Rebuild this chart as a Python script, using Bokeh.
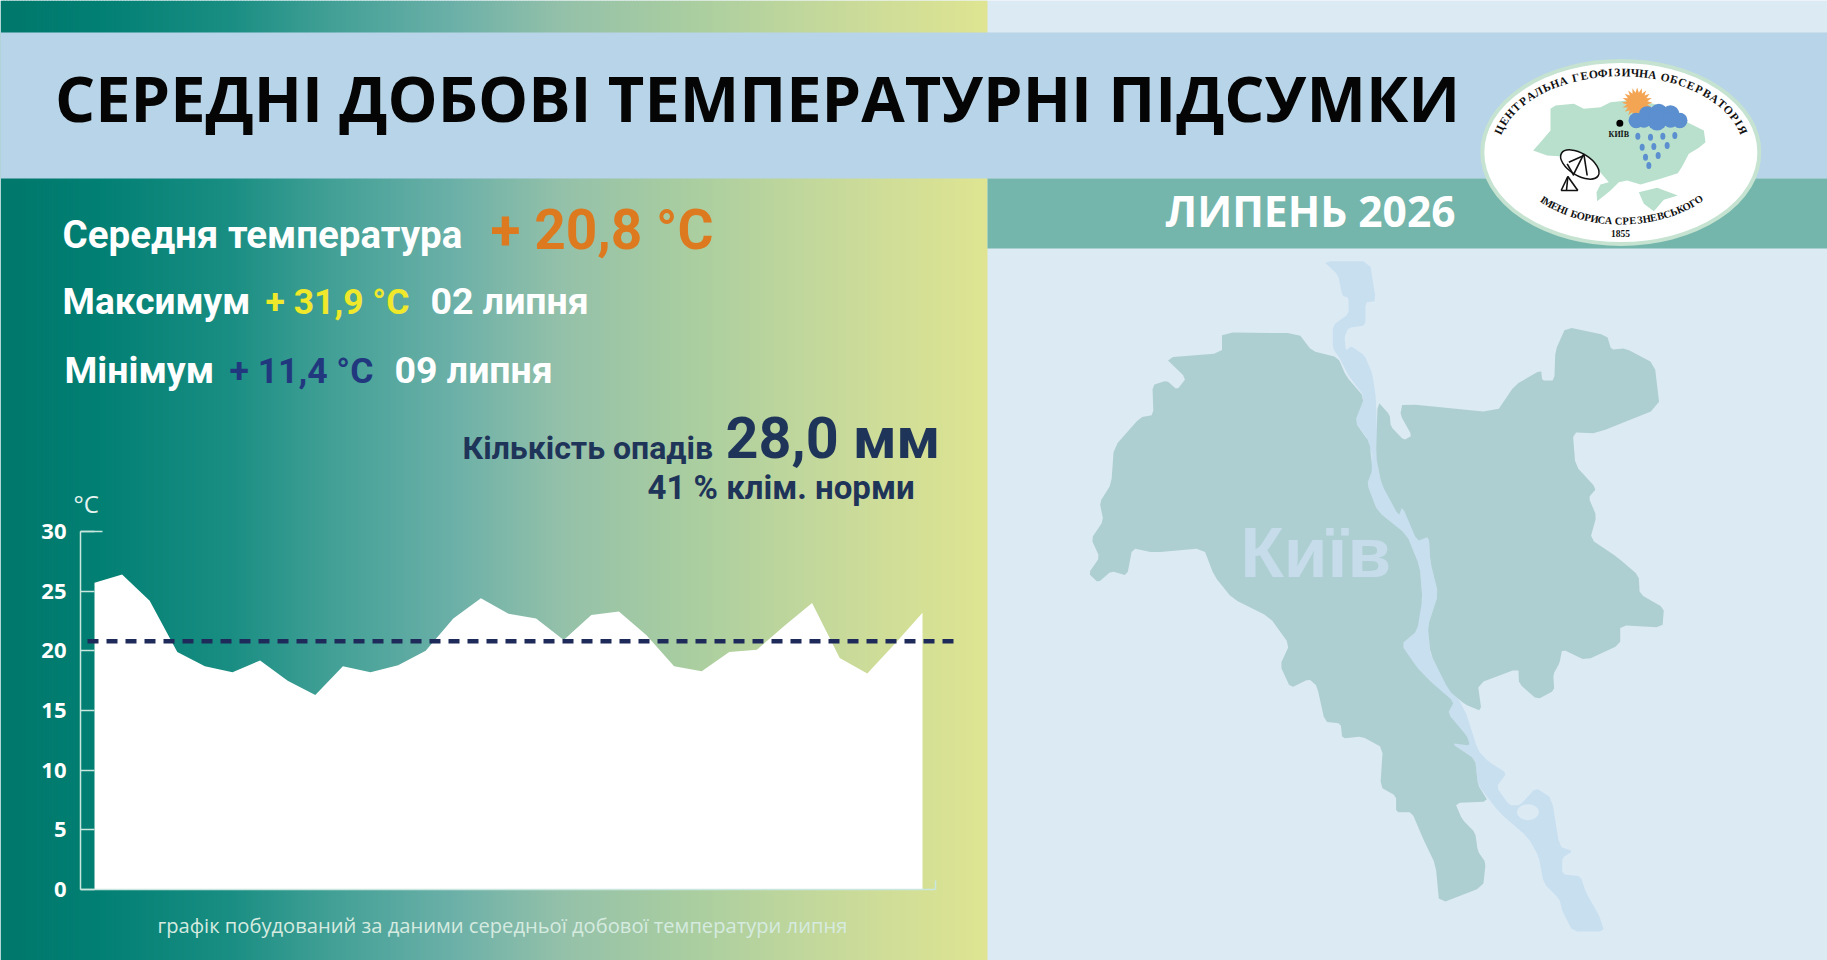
import math
import numpy as np
from bokeh.embed import file_html
from bokeh.resources import INLINE
from bokeh.plotting import figure
from bokeh.models import Range1d, LinearAxis, FixedTicker
from bokeh.core.properties import value

# ---- chart data ----
days = list(range(1, 32))
daily_mean = [25.7, 26.4, 24.2, 19.9, 18.7, 18.2, 19.2, 17.5, 16.3, 18.7, 18.2, 18.8, 20.0, 22.7, 24.4, 23.1,
              22.7, 20.9, 23.0, 23.3, 21.3, 18.7, 18.3, 19.9, 20.1, 22.1, 24.0, 19.4, 18.1, 20.6, 23.2]
month_mean = 20.8
y_ticks = [0, 5, 10, 15, 20, 25, 30]

title_text = "СЕРЕДНІ ДОБОВІ ТЕМПЕРАТУРНІ ПІДСУМКИ"
month_text = "ЛИПЕНЬ 2026"
footer_text = "графік побудований за даними середньої добової температури липня"

# ---- page geometry (reference pixels) ----
W, H = 1827, 960
px_per_day = 27.6
px_day1 = 94.0
px_per_deg = 11.933
px_zero = 889.0

def d_of(px):
    return 1 + (px - px_day1) / px_per_day

def t_of(py):
    return (px_zero - py) / px_per_deg

p = figure(width=W, height=H, output_backend="svg", toolbar_location=None,
           x_axis_type=None, y_axis_type=None,
           x_range=Range1d(d_of(0), d_of(W)), y_range=Range1d(t_of(H), t_of(0)),
           min_border=0, min_border_left=0, min_border_right=0, min_border_top=0, min_border_bottom=0)
p.outline_line_color = None
p.background_fill_color = "#dceaf4"
p.border_fill_color = "#dceaf4"
p.extra_x_ranges["px"] = Range1d(0, W)
p.extra_y_ranges["px"] = Range1d(H, 0)
PX = dict(x_range_name="px", y_range_name="px")

# ---- gradient panel ----
stops_x = [0, 100, 230, 330, 450, 560, 700, 850, 987]
stops_c = [(0, 120, 107), (3, 128, 116), (26, 142, 131), (66, 160, 150), (107, 176, 168),
           (148, 193, 170), (172, 207, 160), (202, 219, 154), (223, 229, 146)]
lefts = np.arange(0, 987, 3)
cols = []
for l in lefts:
    c = [int(np.interp(l + 1.5, stops_x, [s[i] for s in stops_c])) for i in range(3)]
    cols.append("#%02x%02x%02x" % tuple(c))
p.quad(left=lefts, right=np.minimum(lefts + 4, 987), top=0, bottom=960, fill_color=cols, line_color=None, **PX)

# ---- bands ----
p.quad(left=[0], right=[W], top=[32], bottom=[178], fill_color="#b8d4e8", line_color=None, **PX)
p.quad(left=[987], right=[W], top=[178], bottom=[248], fill_color="#74b5ac", line_color=None, **PX)

# ---- Kyiv map (illustration, traced in zoom space) ----
def smooth(pts, n=1, q=0.14):
    for _ in range(n):
        out = []
        m = len(pts)
        for i in range(m):
            a, b = pts[i], pts[(i + 1) % m]
            out.append((a[0] + q * (b[0] - a[0]), a[1] + q * (b[1] - a[1])))
            out.append((b[0] - q * (b[0] - a[0]), b[1] - q * (b[1] - a[1])))
        pts = out
    return pts

def mx(pts):
    return [1000 + a / 1.896 for a, b in pts]

def my(pts):
    return [240 + b / 2.178 for a, b in pts]

river = [(612,45),(640,75),(648,120),(660,125),(660,160),(630,185),(630,235),(645,260),(660,295),(690,340),(672,395),
         (695,430),(705,470),(695,530),(715,590),(770,640),(795,710),(800,780),(785,855),(760,880),(790,930),(815,960),
         (855,1005),(848,1030),(885,1085),(855,1095),(900,1130),(905,1185),(945,1245),(1000,1300),(1020,1340),(1030,1400),
         (1060,1435),(1065,1460),(1085,1505),(1145,1505),(1135,1470),(1110,1420),(1100,1385),(1065,1380),(1065,1345),
         (1085,1330),(1060,1320),(1045,1215),(1015,1192),(985,1230),(965,1230),(940,1190),(960,1160),(925,1135),(905,1110),
         (880,1020),(815,905),(810,840),(830,770),(815,700),(812,645),(780,620),(762,580),(722,530),(715,490),(712,345),
         (705,290),(690,250),(665,230),(655,240),(652,210),(660,190),(692,185),(692,135),(712,132),(700,45)]
west = [(420,200),(565,202),(590,240),(640,255),(655,295),(690,342),(672,395),(700,440),(705,500),(695,530),(715,590),
        (770,640),(795,710),(800,780),(790,850),(760,880),(790,930),(815,960),(860,1005),(848,1030),(885,1080),(890,1100),
        (855,1095),(900,1130),(905,1185),(925,1222),(862,1225),(875,1260),(900,1290),(905,1330),(920,1355),(915,1408),
        (832,1445),(825,1360),(800,1300),(780,1245),(750,1245),(750,1210),(720,1190),(725,1105),(685,1080),(648,1085),
        (645,1052),(615,1048),(600,970),(585,955),(550,975),(530,925),(548,880),(510,820),(440,780),(405,730),(385,670),
        (290,680),(250,670),(240,730),(210,720),(185,745),(167,725),(188,690),(172,650),(195,610),(188,570),(210,530),
        (215,450),(265,385),(290,380),(288,315),(315,305),(335,325),(352,300),(312,255),(420,245)]
east = [(762,355),(940,375),(975,315),(1025,282),(1027,305),(1050,305),(1052,240),(1072,188),(1150,207),(1158,238),
        (1185,235),(1240,268),(1250,365),(1130,420),(1085,418),(1090,490),(1130,540),(1115,560),(1130,600),(1118,650),
        (1170,690),(1210,730),(1212,770),(1258,800),(1255,843),(1175,838),(1175,880),(1110,915),(1065,890),(1060,920),
        (1048,945),(1050,980),(1018,1000),(983,965),(982,932),(905,965),(912,1025),(880,1010),(850,980),(815,900),(810,840),
        (830,770),(815,700),(812,645),(790,655),(762,580),(755,600),(722,530),(712,470),(715,350),(738,380),(740,405),
        (765,435),(780,425),(758,380)]
river_s, west_s, east_s = smooth(river), smooth(west), smooth(east)
p.patch(mx(river_s), my(river_s), fill_color="#c8dff0", line_color=None, **PX)
p.patch(mx(west_s), my(west_s), fill_color="#aecfd2", line_color=None, **PX)
p.patch(mx(east_s), my(east_s), fill_color="#aecfd2", line_color=None, **PX)
p.ellipse(x=[1000 + 1000 / 1.896], y=[240 + 1245 / 2.178], width=[22], height=[16], fill_color="#dceaf4",
          line_color=None, **PX)

BASE_SHIFT = 0.43

def txt(x, y, s, color, size, font="Open Sans", style="bold", align="left"):
    p.text(x=[x], y=[y - BASE_SHIFT * size], text=[s], text_color=color, text_font=value(font),
           text_font_size="%gpx" % size, text_font_style=style, text_align=align, text_baseline="alphabetic", **PX)

txt(1240, 583, "Київ", "#c6dcea", 71, font="Liberation Sans")

# ---- chart ----
p.varea(x=days, y1=[0] * len(days), y2=daily_mean, fill_color="#ffffff")
p.line(x=[d_of(87), d_of(961)], y=[month_mean, month_mean], line_color="#1e2a5a", line_width=4.5, line_dash="11 8")

yaxis = LinearAxis(ticker=FixedTicker(ticks=y_ticks), fixed_location=d_of(80), bounds=(0, 30))
yaxis.axis_line_color = "#c9e6df"
yaxis.axis_line_width = 1.5
yaxis.major_tick_line_color = "#c9e6df"
yaxis.major_tick_line_width = 1.5
yaxis.major_tick_in = 14
yaxis.major_tick_out = 0
yaxis.minor_tick_line_color = None
yaxis.major_label_text_color = "#ffffff"
yaxis.major_label_text_font = "Open Sans"
yaxis.major_label_text_font_style = "bold"
yaxis.major_label_text_font_size = "22px"
yaxis.major_label_standoff = 14
p.add_layout(yaxis, "left")

xaxis = LinearAxis(ticker=FixedTicker(ticks=[d_of(935)]), fixed_location=0, bounds=(d_of(80), d_of(935)))
xaxis.axis_line_color = "#c9e6df"
xaxis.axis_line_width = 1.5
xaxis.major_tick_line_color = "#c9e6df"
xaxis.major_tick_line_width = 1.5
xaxis.major_tick_in = 9
xaxis.major_tick_out = 0
xaxis.minor_tick_line_color = None
xaxis.major_label_text_font_size = "0px"
xaxis.major_label_text_color = None
p.add_layout(xaxis, "below")

# long top tick of the y axis
p.line(x=[d_of(80), d_of(102)], y=[30, 30], line_color="#c9e6df", line_width=1.5)

# ---- texts ----
BODY = "Roboto"
txt(54.5, 124.5, title_text, "#050505", 63.1)
txt(1165, 228, month_text, "#ffffff", 42.5)
txt(62, 251, "Середня температура", "#ffffff", 38.5, font=BODY)
txt(490, 253, "+ 20,8 °C", "#dd7a1f", 55, font=BODY)
txt(62, 317, "Максимум", "#ffffff", 37, font=BODY)
txt(265, 317, "+ 31,9 °C", "#f0e82a", 35.5, font=BODY)
txt(430, 317, "02 липня", "#ffffff", 37.5, font=BODY)
txt(64, 386, "Мінімум", "#ffffff", 37.5, font=BODY)
txt(229, 386, "+ 11,4 °C", "#22387e", 35.5, font=BODY)
txt(394, 386, "09 липня", "#ffffff", 37.5, font=BODY)
txt(462, 461.5, "Кількість опадів", "#1f3459", 32, font=BODY)
txt(725, 462.5, "28,0 мм", "#1f3459", 57.5, font=BODY)
txt(647, 501, "41 % клім. норми", "#1f3459", 33, font=BODY)
txt(73, 513, "°C", "#e6f3ef", 24, style="normal")
txt(157, 933, footer_text, "#d6ebe0", 20.15, style="normal")

# ---- logo (zoom space is /3 + offset) ----
lx = lambda a: 1440 + a / 3
ly = lambda b: 40 + b / 3
p.ellipse(x=[lx(541)], y=[ly(336)], width=[277], height=[183], fill_color="#ffffff", line_color="#c5e3d0", line_width=4, **PX)
ukr = [(330,205),(345,195),(400,190),(430,205),(480,200),(510,185),(560,180),(640,190),(700,215),(740,245),(790,270),
       (795,305),(775,322),(745,340),(725,378),(712,398),(660,415),(600,432),(560,420),(535,425),(510,450),(470,482),
       (468,455),(480,432),(505,425),(470,385),(430,360),(400,350),(320,345),(278,330),(300,305),(330,270)]
crimea = [(595,455),(650,442),(712,465),(670,478),(640,512),(610,490)]
p.patch([lx(a) for a, b in ukr], [ly(b) for a, b in ukr], fill_color="#b8e0cc", line_color=None, **PX)
p.patch([lx(a) for a, b in crimea], [ly(b) for a, b in crimea], fill_color="#b8e0cc", line_color=None, **PX)
# sun
sun_a = np.linspace(0, 2 * math.pi, 41)[:-1]
sun_r = [46 if i % 2 == 0 else 31 for i in range(40)]
p.patch([lx(590 + r * math.cos(a)) for a, r in zip(sun_a, sun_r)], [ly(187 + r * math.sin(a)) for a, r in zip(sun_a, sun_r)],
        fill_color="#f4a553", line_color=None, **PX)
# cloud
cloud_x = [587, 620, 655, 690, 718, 650, 610, 690]
cloud_y = [240, 222, 216, 220, 240, 240, 240, 240]
cloud_r = [23, 25, 26, 26, 23, 30, 22, 22]
p.ellipse(x=[lx(a) for a in cloud_x], y=[ly(b) for b in cloud_y], width=[2 * r / 3 for r in cloud_r],
          height=[2 * r / 3 for r in cloud_r], fill_color="#5b8fcf", line_color=None, **PX)
drops_x = [592, 630, 667, 703, 605, 640, 680, 615, 653, 625]
drops_y = [287, 290, 287, 285, 320, 318, 315, 350, 345, 375]
p.ellipse(x=[lx(a) for a in drops_x], y=[ly(b) for b in drops_y], width=5, height=7, fill_color="#5b8fcf", line_color=None, **PX)
p.ellipse(x=[lx(538)], y=[ly(248)], width=7, height=7, fill_color="#000000", line_color=None, **PX)
txt(lx(535), ly(292), "КИЇВ", "#111111", 8, font="Liberation Serif", align="center")
# dish
p.ellipse(x=[lx(418)], y=[ly(372)], width=[43], height=[22], angle=[-0.55], fill_color="#ffffff", line_color="#111111", line_width=1.5, **PX)
p.multi_line(xs=[[lx(382), lx(362)], [lx(382), lx(378)], [lx(382), lx(412)], [lx(362), lx(412)],
                 [lx(380), lx(400)], [lx(430), lx(400)], [lx(430), lx(440)], [lx(385), lx(430)]],
             ys=[[ly(408), ly(450)], [ly(408), ly(450)], [ly(408), ly(450)], [ly(450), ly(450)],
                 [ly(370), ly(405)], [ly(340), ly(400)], [ly(340), ly(405)], [ly(365), ly(345)]],
             line_color="#111111", line_width=1.6, **PX)

def adv(ch):
    if ch == " ":
        return 0.45
    if ch in "ІЇ":
        return 0.55
    if ch in "ФЦЖШЩЮЯМ":
        return 1.15
    return 1.0

def arc_text(s, cx, cy, a, b, t0, t1, size):
    ts = np.linspace(t0, t1, 2000)
    xs_ = cx + a * np.cos(ts)
    ys_ = cy + b * np.sin(ts)
    seg = np.hypot(np.diff(xs_), np.diff(ys_))
    cum = np.concatenate([[0], np.cumsum(seg)])
    total = sum(adv(c) for c in s)
    run = 0.0
    for ch in s:
        target = cum[-1] * (run + adv(ch) / 2) / total
        run += adv(ch)
        k = min(int(np.searchsorted(cum, target)), len(ts) - 2)
        dx = xs_[k + 1] - xs_[k]
        dy = ys_[k + 1] - ys_[k]
        ang = -math.atan2(dy, dx)
        sx = lx(xs_[k]) - math.sin(ang) * BASE_SHIFT * size
        sy = ly(ys_[k]) - math.cos(ang) * BASE_SHIFT * size
        p.text(x=[sx], y=[sy], text=[ch], angle=[ang], text_color="#111111",
               text_font=value("Liberation Serif"), text_font_size="%gpx" % size, text_font_style="bold",
               text_align="center", text_baseline="alphabetic", **PX)

arc_text("ЦЕНТРАЛЬНА ГЕОФІЗИЧНА ОБСЕРВАТОРІЯ", 541, 335, 365, 225, math.radians(192), math.radians(348), 11.5)
arc_text("ІМЕНІ БОРИСА СРЕЗНЕВСЬКОГО", 541, 335, 336, 220, math.radians(137), math.radians(42), 10.5)
txt(lx(540), ly(590), "1855", "#111111", 9.5, font="Liberation Serif", align="center")

open("out.html", "w").write(file_html(p, INLINE))
